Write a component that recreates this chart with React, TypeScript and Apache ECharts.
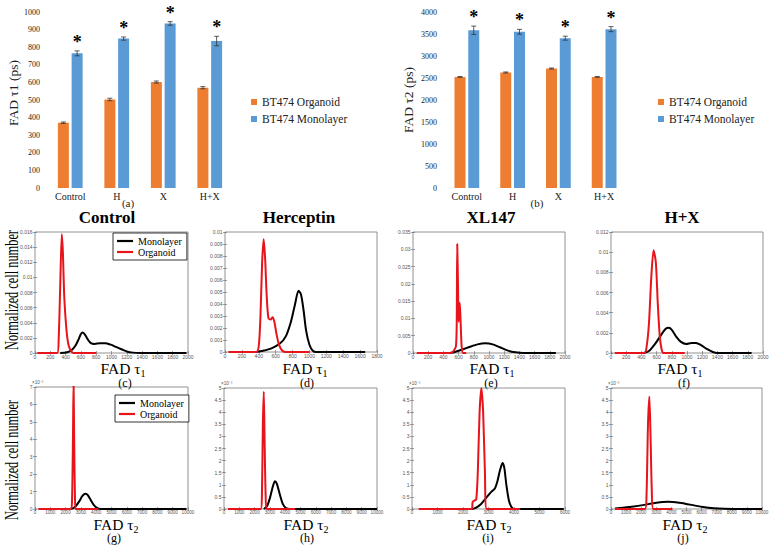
import React, { useEffect, useRef } from 'react';
import * as echarts from 'echarts';

// ---------- Bar charts (a) and (b) ----------
const barCategories = ['Control', 'H', 'X', 'H+X'];
const tau1Organoid = [371, 503, 602, 570];
const tau1OrganoidErr = [4, 7, 6, 6];
const tau1Monolayer = [765, 849, 935, 835];
const tau1MonolayerErr = [14, 9, 10, 27];
const tau2Organoid = [2525, 2625, 2715, 2525];
const tau2OrganoidErr = [10, 12, 12, 10];
const tau2Monolayer = [3585, 3550, 3405, 3610];
const tau2MonolayerErr = [95, 55, 45, 57];
const sigMarksA = ['*', '*', '*', '*'];
const sigMarksB = ['*', '*', '*', '*'];
const legendNames = ['BT474 Organoid', 'BT474 Monolayer'];

// ---------- Distributions, FAD tau1 (c-f) ----------
const ctrlTau1Mono = [[330, 0], [420, 0.0001], [480, 0.0004], [530, 0.001], [570, 0.0018], [600, 0.0025], [625, 0.0027], [655, 0.0024], [690, 0.0018], [730, 0.0013], [780, 0.0012], [850, 0.0013], [920, 0.0013], [990, 0.0011], [1060, 0.0008], [1130, 0.0005], [1200, 0.0002], [1280, 0.00005], [1380, 0], [1980, 0]];
const ctrlTau1Org = [[30, 0], [290, 0], [310, 0.002], [330, 0.009], [350, 0.0157], [365, 0.0132], [380, 0.008], [400, 0.0045], [420, 0.0022], [440, 0.001], [470, 0.0003], [500, 0], [800, 0]];
const hercTau1Mono = [[370, 0], [450, 0.0001], [550, 0.0003], [650, 0.0007], [720, 0.0013], [780, 0.0025], [830, 0.004], [870, 0.0051], [900, 0.0048], [930, 0.0035], [960, 0.0018], [1000, 0.0006], [1040, 0.0001], [1080, 0], [1660, 0]];
const hercTau1Org = [[40, 0], [370, 0], [400, 0.0005], [420, 0.003], [440, 0.0075], [458, 0.0094], [475, 0.0078], [495, 0.0045], [515, 0.0028], [540, 0.0027], [565, 0.0029], [585, 0.0025], [610, 0.0015], [640, 0.0006], [680, 0.0001], [720, 0], [1000, 0]];
const xlTau1Mono = [[480, 0], [550, 0.0003], [650, 0.001], [750, 0.0018], [850, 0.0025], [950, 0.0028], [1050, 0.0025], [1150, 0.0016], [1250, 0.0007], [1350, 0.0002], [1450, 0], [1880, 0]];
const xlTau1Org = [[50, 0], [500, 0], [540, 0.0008], [565, 0.002], [575, 0.008], [582, 0.0315], [592, 0.02], [600, 0.009], [608, 0.012], [615, 0.0145], [625, 0.01], [640, 0.002], [660, 0], [700, 0]];
const hxTau1Mono = [[430, 0], [500, 0.0002], [580, 0.0009], [660, 0.0018], [720, 0.0024], [760, 0.0025], [800, 0.0023], [860, 0.0016], [920, 0.0011], [990, 0.0009], [1060, 0.001], [1120, 0.001], [1180, 0.0008], [1260, 0.0004], [1340, 0.0001], [1400, 0], [1850, 0]];
const hxTau1Org = [[50, 0], [440, 0], [470, 0.0007], [500, 0.003], [530, 0.0075], [560, 0.0102], [590, 0.009], [615, 0.005], [640, 0.0018], [665, 0.0004], [690, 0], [970, 0]];

// ---------- Distributions, FAD tau2 (g-j), in units of 1e-3 ----------
const ctrlTau2Mono = [[2300, 0], [2500, 0.05], [2700, 0.2], [2900, 0.45], [3100, 0.75], [3300, 0.87], [3450, 0.8], [3650, 0.5], [3850, 0.22], [4050, 0.06], [4300, 0], [9900, 0]];
const ctrlTau2Org = [[220, 0], [2350, 0], [2420, 0.5], [2480, 4], [2520, 7.3], [2560, 4], [2610, 0.8], [2660, 0], [4130, 0]];
const hercTau2Mono = [[2600, 0], [2800, 0.1], [3000, 0.45], [3200, 0.95], [3330, 1.15], [3450, 1.05], [3650, 0.6], [3850, 0.2], [4050, 0.04], [4300, 0], [10000, 0]];
const hercTau2Org = [[260, 0], [2400, 0], [2480, 0.6], [2540, 3.5], [2600, 4.85], [2650, 3], [2720, 0.6], [2800, 0], [4650, 0]];
const xlTau2Mono = [[2350, 0], [2500, 0.05], [2700, 0.2], [2900, 0.45], [3100, 0.7], [3250, 0.85], [3350, 1.15], [3450, 1.6], [3550, 1.9], [3620, 1.7], [3700, 1.0], [3800, 0.35], [3900, 0.08], [4000, 0], [5950, 0]];
const xlTau2Org = [[260, 0], [2340, 0], [2380, 0.3], [2450, 0.35], [2520, 0.4], [2580, 1.5], [2650, 4], [2720, 5], [2790, 4], [2860, 1.5], [2930, 0], [4240, 0]];
const hxTau2Mono = [[260, 0.02], [800, 0.05], [1500, 0.1], [2200, 0.17], [2800, 0.24], [3400, 0.29], [3800, 0.3], [4300, 0.28], [4900, 0.22], [5500, 0.15], [6100, 0.08], [6800, 0.03], [7500, 0.01], [8500, 0], [10000, 0]];
const hxTau2Org = [[260, 0], [2250, 0], [2350, 0.5], [2450, 3.5], [2540, 4.65], [2620, 3], [2700, 0.8], [2800, 0], [4070, 0]];

const panelTitles = ['Control', 'Herceptin', 'XL147', 'H+X'];
const panelLetters = ['(c)', '(d)', '(e)', '(f)', '(g)', '(h)', '(i)', '(j)'];
const seriesNames = ['Monolayer', 'Organoid'];

const SERIF = 'Liberation Serif';
const SANS = 'Liberation Sans';
const ORANGE = '#ED7D31';
const BLUE = '#5B9BD5';
const RED = '#E8141C';
const BLACK = '#000000';

const panels = [
  { grid: { left: 35, top: 232, width: 153, height: 121 }, xMax: 2000, xInt: 200, yMax: 0.016, yInt: 0.002, mono: ctrlTau1Mono, org: ctrlTau1Org, sci: false },
  { grid: { left: 225, top: 232, width: 152, height: 120 }, xMax: 1800, xInt: 200, yMax: 0.01, yInt: 0.001, mono: hercTau1Mono, org: hercTau1Org, sci: false },
  { grid: { left: 413, top: 232, width: 152, height: 121 }, xMax: 2000, xInt: 200, yMax: 0.035, yInt: 0.005, mono: xlTau1Mono, org: xlTau1Org, sci: false },
  { grid: { left: 611, top: 232, width: 152, height: 121 }, xMax: 2000, xInt: 200, yMax: 0.012, yInt: 0.002, mono: hxTau1Mono, org: hxTau1Org, sci: false },
  { grid: { left: 35, top: 387, width: 153, height: 122 }, xMax: 10000, xInt: 1000, yMax: 7, yInt: 1, mono: ctrlTau2Mono, org: ctrlTau2Org, sci: true },
  { grid: { left: 224, top: 388, width: 153, height: 121 }, xMax: 10000, xInt: 1000, yMax: 5, yInt: 0.5, mono: hercTau2Mono, org: hercTau2Org, sci: true },
  { grid: { left: 412, top: 388, width: 153, height: 121 }, xMax: 6000, xInt: 1000, yMax: 5, yInt: 0.5, mono: xlTau2Mono, org: xlTau2Org, sci: true },
  { grid: { left: 611, top: 388, width: 151, height: 121 }, xMax: 10000, xInt: 1000, yMax: 5, yInt: 0.5, mono: hxTau2Mono, org: hxTau2Org, sci: true },
];

const fmt = (v: number) => String(Math.round(v * 1e6) / 1e6);

function measure(text: string, font: string) {
  try {
    const ctx = document.createElement('canvas').getContext('2d');
    if (ctx) {
      ctx.font = font;
      return ctx.measureText(text).width;
    }
  } catch (e) { /* ignore */ }
  return text.length * 8;
}

function errorRenderer(offset: number, marks: string[] | null) {
  return (params: any, api: any) => {
    const i = api.value(0);
    const v = api.value(1);
    const e = api.value(2);
    const base = api.coord([i, v]);
    const top = api.coord([i, v + e]);
    const bot = api.coord([i, v - e]);
    const x = base[0] + offset;
    const cap = 2.5;
    const st = { stroke: '#333', lineWidth: 0.8 };
    const children: any[] = [
      { type: 'line', shape: { x1: x, y1: top[1], x2: x, y2: bot[1] }, style: st },
      { type: 'line', shape: { x1: x - cap, y1: top[1], x2: x + cap, y2: top[1] }, style: st },
      { type: 'line', shape: { x1: x - cap, y1: bot[1], x2: x + cap, y2: bot[1] }, style: st },
    ];
    if (marks) {
      children.push({
        type: 'text', x, y: top[1] - 9,
        style: { text: marks[params.dataIndex], fontSize: 18, fontWeight: 'bold', fontFamily: SERIF, fill: '#000', align: 'center', verticalAlign: 'middle', lineHeight: 12 },
      });
    }
    return { type: 'group', children };
  };
}

const BAR_W = 11;
const OFF = (BAR_W + BAR_W * 0.25) / 2;

function barBlock(gi: number, org: number[], orgErr: number[], mono: number[], monoErr: number[], marks: string[]) {
  return [
    { type: 'bar', name: legendNames[0], xAxisIndex: gi, yAxisIndex: gi, data: org, barWidth: BAR_W, barGap: '25%', itemStyle: { color: ORANGE } },
    { type: 'bar', name: legendNames[1], xAxisIndex: gi, yAxisIndex: gi, data: mono, barWidth: BAR_W, barGap: '25%', itemStyle: { color: BLUE } },
    { type: 'custom', xAxisIndex: gi, yAxisIndex: gi, silent: true, z: 5, renderItem: errorRenderer(-OFF, null), data: org.map((v, i) => [i, v, orgErr[i]]) },
    { type: 'custom', xAxisIndex: gi, yAxisIndex: gi, silent: true, z: 5, renderItem: errorRenderer(OFF, marks), data: mono.map((v, i) => [i, v, monoErr[i]]) },
  ];
}

function buildOption() {
  const grid: any[] = [
    { left: 47, top: 12, width: 186, height: 176 },
    { left: 444, top: 12, width: 183, height: 176 },
  ];
  const xAxis: any[] = [];
  const yAxis: any[] = [];
  [1000, 4000].forEach((mx, gi) => {
    xAxis.push({
      type: 'category', gridIndex: gi, data: barCategories,
      axisLine: { show: false }, axisTick: { show: false },
      axisLabel: { fontFamily: SERIF, fontSize: 10, color: '#222', margin: 3, lineHeight: 10 },
    });
    yAxis.push({
      type: 'value', gridIndex: gi, min: 0, max: mx, interval: mx / (gi === 0 ? 10 : 8),
      axisLine: { show: false }, axisTick: { show: false }, splitLine: { show: false },
      axisLabel: { fontFamily: SERIF, fontSize: 8, color: '#222', margin: 7, formatter: fmt },
    });
  });
  const series: any[] = [
    ...barBlock(0, tau1Organoid, tau1OrganoidErr, tau1Monolayer, tau1MonolayerErr, sigMarksA),
    ...barBlock(1, tau2Organoid, tau2OrganoidErr, tau2Monolayer, tau2MonolayerErr, sigMarksB),
  ];
  const tickStyle = { show: true, inside: true, length: 2, lineStyle: { color: '#666', width: 0.6 } };
  panels.forEach((p, i) => {
    const gi = 2 + i;
    grid.push({ ...p.grid, show: true, borderColor: '#777', borderWidth: 0.8, backgroundColor: '#fff' });
    const xb = xAxis.length;
    xAxis.push({
      type: 'value', gridIndex: gi, min: 0, max: p.xMax, interval: p.xInt, position: 'bottom',
      axisLine: { show: false }, axisTick: tickStyle, splitLine: { show: false },
      axisLabel: { fontFamily: SANS, fontSize: p.sci ? 4.6 : 5, lineHeight: 5, color: '#555', margin: 1, formatter: fmt },
    });
    xAxis.push({
      type: 'value', gridIndex: gi, min: 0, max: p.xMax, interval: p.xInt, position: 'top',
      axisLine: { show: false }, axisTick: tickStyle, splitLine: { show: false }, axisLabel: { show: false },
    });
    const yb = yAxis.length;
    yAxis.push({
      type: 'value', gridIndex: gi, min: 0, max: p.yMax, interval: p.yInt, position: 'left',
      axisLine: { show: false }, axisTick: tickStyle, splitLine: { show: false },
      axisLabel: { fontFamily: SANS, fontSize: 5, lineHeight: 5, color: '#555', margin: 2.5, formatter: fmt },
      name: p.sci ? '×10⁻³' : '', nameLocation: 'end', nameGap: 1,
      nameTextStyle: { fontFamily: SANS, fontSize: 4.5, color: '#555', align: 'left', padding: [0, 0, 0, -3] },
    });
    yAxis.push({
      type: 'value', gridIndex: gi, min: 0, max: p.yMax, interval: p.yInt, position: 'right',
      axisLine: { show: false }, axisTick: tickStyle, splitLine: { show: false }, axisLabel: { show: false },
    });
    series.push({
      type: 'line', name: seriesNames[0], xAxisIndex: xb, yAxisIndex: yb, data: p.mono,
      symbol: 'none', showSymbol: false, smooth: 0.25, color: BLACK, lineStyle: { color: BLACK, width: 2 }, z: 3,
    });
    series.push({
      type: 'line', name: seriesNames[1], xAxisIndex: xb, yAxisIndex: yb, data: p.org,
      symbol: 'none', showSymbol: false, smooth: 0.25, color: RED, lineStyle: { color: RED, width: 2 }, z: 4,
    });
  });

  const barLegend = (left: number) => ({
    data: legendNames, orient: 'vertical', left, top: 91, icon: 'rect', itemWidth: 6, itemHeight: 6, itemGap: 5,
    selectedMode: false, textStyle: { fontFamily: SERIF, fontSize: 11.5, color: '#222' },
  });
  const lineLegend = (left: number, top: number) => ({
    data: seriesNames, orient: 'vertical', left, top, icon: 'rect', itemWidth: 16, itemHeight: 2.2, itemGap: 1,
    padding: [3, 5, 3, 4], borderColor: '#000', borderWidth: 0.8, backgroundColor: '#fff', selectedMode: false,
    textStyle: { fontFamily: SERIF, fontSize: 10, color: '#000' },
  });

  const graphic: any[] = [];
  const titleX = [107, 299, 491, 682];
  panelTitles.forEach((t, i) => {
    graphic.push({ type: 'text', x: titleX[i], y: 217, style: { text: t, fontFamily: SERIF, fontSize: 17, lineHeight: 14, fontWeight: 'bold', fill: '#000', align: 'center', verticalAlign: 'middle' } });
  });
  const xLabelX = [123, 305, 492, 680, 116, 306, 489, 685];
  const letterX = [125, 307, 491, 684, 114, 307, 488, 683];
  const mainW = measure('FAD τ', `15.5px "${SERIF}"`);
  const subW = measure('1', `10px "${SERIF}"`);
  xLabelX.forEach((cx, i) => {
    const row = i < 4 ? 0 : 1;
    const y0 = row === 0 ? 368.5 : 524;
    const x0 = cx - (mainW + subW) / 2;
    graphic.push({ type: 'text', x: x0, y: y0, style: { text: 'FAD τ', fontFamily: SERIF, fontSize: 15.5, lineHeight: 11, fill: '#000', align: 'left', verticalAlign: 'middle' } });
    graphic.push({ type: 'text', x: x0 + mainW, y: y0 + 5, style: { text: String(row + 1), fontFamily: SERIF, fontSize: 10, lineHeight: 7, fill: '#000', align: 'left', verticalAlign: 'middle' } });
    graphic.push({ type: 'text', x: letterX[i], y: row === 0 ? 382.5 : 538, style: { text: panelLetters[i], fontFamily: SERIF, fontSize: 12, lineHeight: 10, fill: '#000', align: 'center', verticalAlign: 'middle' } });
  });
  [290, 460].forEach((y) => {
    graphic.push({ type: 'text', x: 11, y, rotation: Math.PI / 2, scaleX: 0.65, style: { text: 'Normalized cell number', fontFamily: SERIF, fontSize: 19, lineHeight: 16, fill: '#000', align: 'center', verticalAlign: 'middle' } });
  });
  graphic.push({ type: 'text', x: 13, y: 93, rotation: Math.PI / 2, style: { text: 'FAD τ1 (ps)', fontFamily: SERIF, fontSize: 13.5, fill: '#222', align: 'center', verticalAlign: 'middle' } });
  graphic.push({ type: 'text', x: 408, y: 100, rotation: Math.PI / 2, style: { text: 'FAD τ2 (ps)', fontFamily: SERIF, fontSize: 13.5, fill: '#222', align: 'center', verticalAlign: 'middle' } });
  graphic.push({ type: 'text', x: 128, y: 203, style: { text: '(a)', fontFamily: SERIF, fontSize: 11, lineHeight: 9, fill: '#222', align: 'center', verticalAlign: 'middle' } });
  graphic.push({ type: 'text', x: 537, y: 203, style: { text: '(b)', fontFamily: SERIF, fontSize: 11, lineHeight: 9, fill: '#222', align: 'center', verticalAlign: 'middle' } });

  return {
    animation: false,
    backgroundColor: '#fff',
    textStyle: { fontFamily: SERIF },
    grid, xAxis, yAxis, series,
    legend: [barLegend(246), barLegend(653), lineLegend(113, 233), lineLegend(115, 395)],
    graphic,
  };
}

export default function App() {
  const ref = useRef<HTMLDivElement>(null);
  useEffect(() => {
    if (!ref.current) return;
    const chart = echarts.init(ref.current, null, { renderer: 'svg' });
    chart.setOption(buildOption() as any);
    return () => chart.dispose();
  }, []);
  return <div ref={ref} style={{ position: 'fixed', left: 0, top: 0, width: 778, height: 549, background: '#fff' }} />;
}
